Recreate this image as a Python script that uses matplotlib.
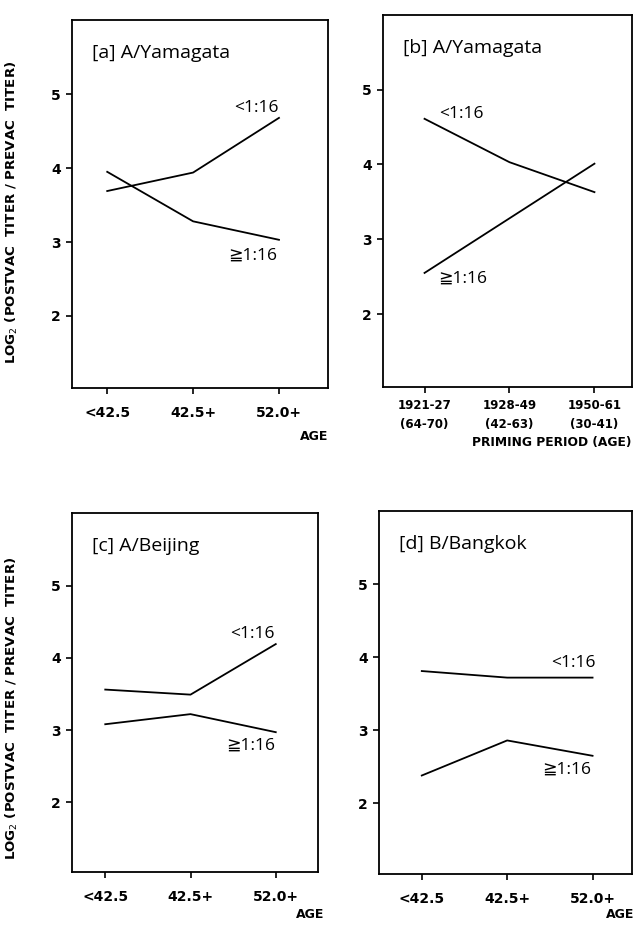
import numpy as np
import matplotlib
matplotlib.use("Agg")
import matplotlib.pyplot as plt

plt.rcParams['font.family'] = ['DejaVu Sans']

age_ticks = ["<42.5", "42.5+", "52.0+"]
prime_ticks = ["1921-27\n(64-70)", "1928-49\n(42-63)", "1950-61\n(30-41)"]

# log2 fold rise
a_low = [3.69, 3.94, 4.68]
a_high = [3.95, 3.28, 3.03]
b_low = [4.61, 4.03, 3.63]
b_high = [2.55, 3.28, 4.01]
c_low = [3.56, 3.49, 4.19]
c_high = [3.08, 3.22, 2.97]
d_low = [3.81, 3.72, 3.72]
d_high = [2.38, 2.86, 2.65]

ylab = "LOG$_2$ (POSTVAC  TITER / PREVAC  TITER)"
lbl_font = ['Open Sans', 'DejaVu Sans']

fig = plt.figure(figsize=(6.35, 9.25), dpi=100)

panels = [
    # rect, xlim, title, ticks, low, high, low label pos, high label pos
    ([0.1134, 0.581, 0.403, 0.397], (-0.41, 2.57), "[a] A/Yamagata", age_ticks,
     a_low, a_high, (1.74, 4.81), (1.69, 2.82)),
    ([0.603, 0.582, 0.392, 0.402], (-0.49, 2.44), "[b] A/Yamagata", prime_ticks,
     b_low, b_high, (0.43, 4.68), (0.45, 2.47)),
    ([0.1134, 0.057, 0.388, 0.388], (-0.39, 2.50), "[c] A/Beijing", age_ticks,
     c_low, c_high, (1.73, 4.33), (1.71, 2.79)),
    ([0.597, 0.055, 0.398, 0.3925], (-0.50, 2.46), "[d] B/Bangkok", age_ticks,
     d_low, d_high, (1.78, 3.92), (1.70, 2.46)),
]

ylab_pos = {0: (-0.203, 0.476), 2: (-0.211, 0.457)}
age_pos = {0: (0.945, -0.133), 2: (0.965, -0.118), 3: (0.955, -0.112)}

x = np.arange(3)
for i, (rect, xl, title, ticks, low, high, lpos, hpos) in enumerate(panels):
    ax = fig.add_axes(rect)
    ax.plot(x, low, color='black', lw=1.3)
    ax.plot(x, high, color='black', lw=1.3)
    ax.set_xlim(*xl)
    ax.set_ylim(1.03, 6.0)
    ax.set_yticks([2, 3, 4, 5])
    ax.set_yticklabels(["2", "3", "4", "5"], fontsize=10, fontweight='bold')
    ax.set_xticks(x)
    ax.tick_params(axis='both', direction='out', length=4, width=1.2, pad=4)
    if ticks is prime_ticks:
        ax.set_xticklabels(ticks, fontsize=8.5, fontweight='bold', linespacing=1.55)
        ax.tick_params(axis='x', pad=5)
    else:
        ax.set_xticklabels(ticks, fontsize=10, fontweight='bold')
        ax.tick_params(axis='x', pad=9)
    for s in ax.spines.values():
        s.set_linewidth(1.3)
    ax.text(0.08, 0.91, title, transform=ax.transAxes, fontsize=14,
            va='center', family=lbl_font)
    ax.text(lpos[0], lpos[1], "<1:16", fontsize=12.5, ha='center', va='center',
            family=lbl_font)
    ax.text(hpos[0], hpos[1], "\u22671:16", fontsize=12.5, ha='center', va='center',
            family=lbl_font)
    if i in ylab_pos:
        ax.set_ylabel(ylab, fontsize=9.6, fontweight='bold')
        ax.yaxis.set_label_coords(*ylab_pos[i])
    if i == 1:
        ax.text(1.0, -0.15, "PRIMING PERIOD (AGE)", transform=ax.transAxes,
                fontsize=8.8, fontweight='bold', ha='right', va='center')
    else:
        ax.text(age_pos[i][0], age_pos[i][1], "AGE", transform=ax.transAxes,
                fontsize=9, fontweight='bold', ha='center', va='center')

fig.savefig("out.png", dpi=100)
